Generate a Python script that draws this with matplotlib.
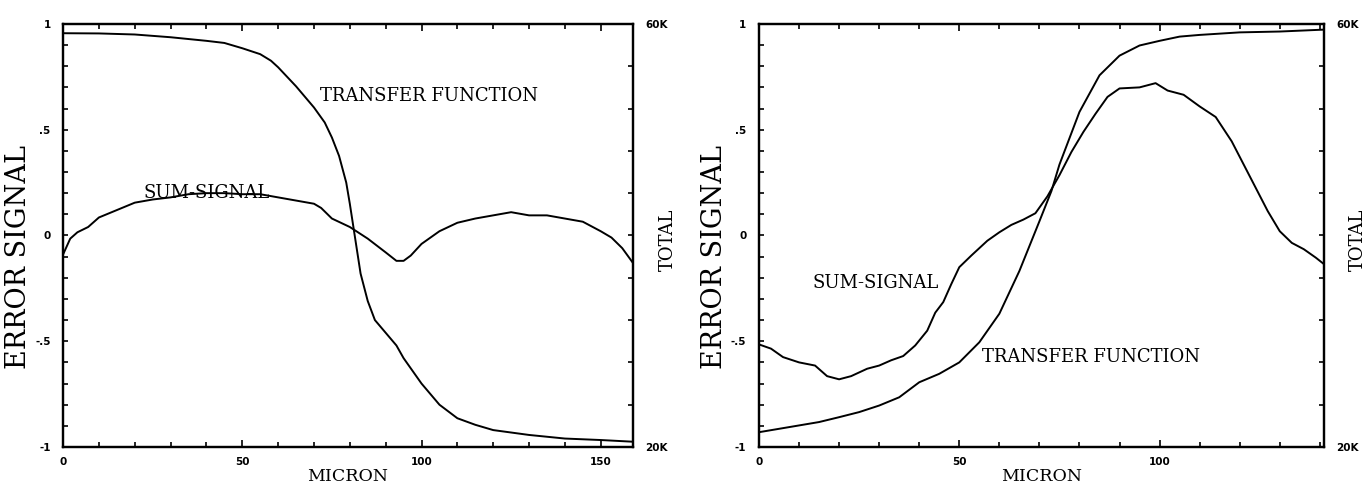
"""
Two-panel scan recreation: error signal / transfer function vs micron.
Left panel: falling transfer function, right panel: rising one.
The sum-signal is plotted against the TOTAL (counts) axis on the right.
"""

import numpy as np
import matplotlib
matplotlib.use("Agg")
import matplotlib.pyplot as plt
from matplotlib.ticker import MultipleLocator, FixedLocator


# -------------------------------------------------------------------
# DATA
# -------------------------------------------------------------------
# left panel, transfer function (error signal units)
left_tf_x = [0, 10, 20, 30, 40, 45, 50, 55, 58, 60, 65, 70, 73, 75, 77, 79,
             80, 81, 82, 83, 85, 87, 90, 93, 95, 100, 105, 110, 115, 120,
             130, 140, 150, 159]
left_tf_y = [0.956, 0.955, 0.95, 0.937, 0.92, 0.91, 0.885, 0.857, 0.826,
             0.795, 0.705, 0.605, 0.534, 0.463, 0.376, 0.25, 0.15, 0.04,
             -0.07, -0.18, -0.31, -0.40, -0.46, -0.52, -0.58, -0.70, -0.80,
             -0.864, -0.895, -0.92, -0.943, -0.96, -0.967, -0.975]

# left panel, sum-signal (TOTAL counts)
left_sum_x = [0, 2, 4, 7, 10, 15, 20, 25, 30, 35, 40, 45, 50, 55, 60, 65,
              70, 72, 75, 80, 85, 90, 93, 95, 97, 100, 105, 110, 115, 120,
              125, 130, 135, 140, 145, 150, 153, 156, 159]
left_sum_y = [38200, 39700, 40300, 40800, 41700, 42400, 43100, 43400, 43600,
              43900, 44000, 44000, 43900, 43900, 43600, 43300, 43000, 42600,
              41600, 40800, 39700, 38400, 37600, 37600, 38100, 39200, 40400,
              41200, 41600, 41900, 42200, 41900, 41900, 41600, 41300, 40400,
              39800, 38800, 37400]

# right panel, transfer function (error signal units)
right_tf_x = [0, 5, 10, 15, 20, 25, 30, 35, 40, 45, 50, 55, 60, 65, 70, 73,
              75, 80, 85, 90, 95, 100, 105, 110, 120, 130, 141]
right_tf_y = [-0.93, -0.914, -0.898, -0.882, -0.859, -0.835, -0.804, -0.765,
              -0.694, -0.654, -0.60, -0.505, -0.37, -0.168, 0.067, 0.21,
              0.335, 0.584, 0.757, 0.85, 0.898, 0.92, 0.94, 0.948, 0.96,
              0.964, 0.973]

# right panel, sum-signal (TOTAL counts)
right_sum_x = [0, 3, 6, 10, 14, 17, 20, 23, 27, 30, 33, 36, 39, 42, 44, 46,
               48, 50, 53, 55, 57, 60, 63, 66, 69, 72, 75, 78, 81, 84, 87,
               90, 95, 99, 102, 106, 110, 114, 118, 121, 124, 127, 130, 133,
               136, 139, 141]
right_sum_y = [29700, 29300, 28500, 28000, 27700, 26700, 26400, 26700, 27400,
               27700, 28200, 28600, 29600, 31000, 32700, 33700, 35400, 37000,
               38100, 38800, 39500, 40300, 41000, 41500, 42100, 43700, 45700,
               47900, 49800, 51500, 53100, 53900, 54000, 54400, 53700, 53300,
               52200, 51200, 48900, 46700, 44500, 42300, 40400, 39300, 38700,
               37900, 37300]

x_max = [159, 141]
ann_tf = [(102, 0.66), (83, -0.575)]
ann_sum = [(40, 0.20), (29, -0.225)]


# -------------------------------------------------------------------
# STYLE
# -------------------------------------------------------------------
SERIF = ["DejaVu Serif"]
TICKFONT = dict(family="DejaVu Sans", weight="bold", size=7.5)
LW = 1.4


def style_panel(ax, ax2, xmax):
    ax.set_xlim(0, xmax)
    ax.set_ylim(-1, 1)
    ax2.set_ylim(20000, 60000)

    ax.xaxis.set_major_locator(FixedLocator([0, 50, 100, 150]))
    ax.xaxis.set_minor_locator(MultipleLocator(10))
    ax.yaxis.set_major_locator(FixedLocator([-1, -0.5, 0, 0.5, 1]))
    ax.yaxis.set_minor_locator(MultipleLocator(0.1))
    ax.set_xticklabels(["0", "50", "100", "150"], **TICKFONT)
    ax.set_yticklabels(["-1", "-.5", "0", ".5", "1"], **TICKFONT)

    ax2.yaxis.set_major_locator(FixedLocator([20000, 60000]))
    ax2.yaxis.set_minor_locator(MultipleLocator(4000))
    ax2.set_yticklabels(["20K", "60K"], **TICKFONT)

    ax.tick_params(which="both", direction="in", top=True, width=1.2)
    ax.tick_params(which="major", length=5, pad=7)
    ax.tick_params(which="minor", length=3.5)
    ax.tick_params(axis="y", which="major", length=3.5, pad=9)
    ax2.tick_params(which="both", direction="in", width=1.2, length=3.5,
                    pad=9)
    for a in (ax, ax2):
        for sp in a.spines.values():
            sp.set_linewidth(1.6)

    ax.set_xlabel("MICRON", family=SERIF, fontsize=12.5, labelpad=1)
    ax.set_ylabel("ERROR SIGNAL", family=SERIF, fontsize=19.5, labelpad=2,
                  y=0.45)
    ax2.set_ylabel("TOTAL", family=SERIF, fontsize=13, rotation=90)
    ax2.yaxis.set_label_coords(1.045, 0.49)


# -------------------------------------------------------------------
# PLOT
# -------------------------------------------------------------------
fig = plt.figure(figsize=(13.71, 4.88), dpi=100)
ax_l = fig.add_axes([0.046, 0.084, 0.4157, 0.867])
ax_r = fig.add_axes([0.5536, 0.084, 0.412, 0.867])

panels = [
    (ax_l, left_tf_x, left_tf_y, left_sum_x, left_sum_y),
    (ax_r, right_tf_x, right_tf_y, right_sum_x, right_sum_y),
]

for i, (ax, tx, ty, sx, sy) in enumerate(panels):
    ax2 = ax.twinx()
    ax.plot(tx, ty, color="black", lw=LW)
    ax2.plot(sx, sy, color="black", lw=LW)
    style_panel(ax, ax2, x_max[i])

    ax.text(*ann_tf[i], "TRANSFER FUNCTION", family=SERIF, fontsize=13,
            ha="center", va="center")
    ax.text(*ann_sum[i], "SUM-SIGNAL", family=SERIF, fontsize=13,
            ha="center", va="center")

fig.savefig("out.png", dpi=100, facecolor="white")
